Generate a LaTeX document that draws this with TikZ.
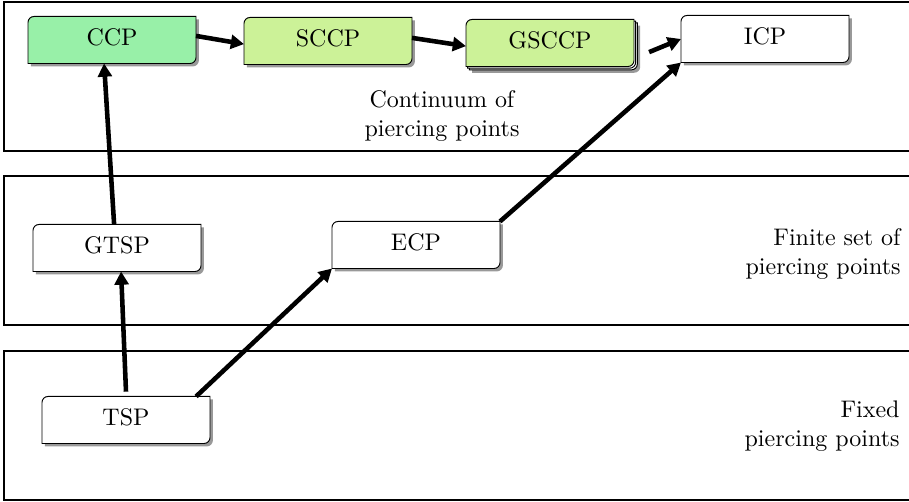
\documentclass[tikz,border=0pt]{standalone}
\usepackage{tikz}
\usetikzlibrary{shapes,arrows.meta,shadows,backgrounds}

\definecolor{ccpgreen}{RGB}{152,240,168}
\definecolor{sccpgreen}{RGB}{204,242,152}
% outline with two rounded corners (top left, bottom right)
\newcommand{\cornerpath}[1]{([yshift=-2.5pt]#1.north west) arc[start angle=180, end angle=90, radius=2.5pt] -- (#1.north east) -- ([yshift=2.5pt]#1.south east) arc[start angle=0, end angle=-90, radius=2.5pt] -- (#1.south west) -- cycle}

\begin{document}
\begin{tikzpicture}[x=0.4167pt, y=-0.4167pt, >={Triangle[length=5.5pt, width=5.8pt]}]
			\tikzset{
				problem/.style={rectangle, minimum width=69.6pt, minimum height=19.2pt, text height=1.6ex, text depth=.6ex, inner sep=0pt},
				shadebox/.style={draw=black, drop shadow={shadow xshift=1.2pt, shadow yshift=-1.2pt, fill=black!40, opacity=1}},
				band/.style={draw=black, semithick},
				bandlabel/.style={align=right, anchor=east, inner sep=0pt},
				arrow/.style={line width=1.9pt, ->},
			}
			\useasboundingbox (0,0) rectangle (909,502);
			%bands
			\draw[band] (4,2) rectangle (920,151);
			\draw[band] (4,176) rectangle (920,325);
			\draw[band] (4,351) rectangle (920,500);
			\node[align=center, inner sep=0pt] (contlabel) at (442,116) {Continuum of\\piercing points};
			\node[bandlabel] (finitelabel) at (901,254) {Finite set of\\piercing points};
			\node[bandlabel] (fixedlabel) at (900,426) {Fixed\\piercing points};
			%problems
			\node[problem] (ccp) at (112,40) {CCP};
			\node[problem] (sccp) at (328,41) {SCCP};
			\node[problem] (gsccp) at (550,43) {GSCCP};
			\node[problem] (icp) at (765,39) {ICP};
			\node[problem] (gtsp) at (117,248) {GTSP};
			\node[problem] (ecp) at (416,245) {ECP};
			\node[problem] (tsp) at (126,420) {TSP};
			\begin{scope}[on background layer]
				\foreach \n/\c in {ccp/ccpgreen, sccp/sccpgreen, icp/white, gtsp/white, ecp/white, tsp/white}
					\draw[shadebox, fill=\c] \cornerpath{\n};
				\draw[fill=sccpgreen, draw=black,
					drop shadow={shadow xshift=2.6pt, shadow yshift=-2.6pt, fill=black!40, opacity=1},
					general shadow={shadow xshift=1.4pt, shadow yshift=-1.4pt, fill=white, draw=black},
					general shadow={shadow xshift=0.7pt, shadow yshift=-0.7pt, fill=white, draw=black}] \cornerpath{gsccp};
			\end{scope}
			%draw arrows
			\draw[arrow] ([yshift=1.7pt]ccp.east) -- ([yshift=-1.3pt]sccp.west);
			\draw[arrow] ([yshift=1.3pt]sccp.east) -- ([yshift=-1.3pt]gsccp.west);
			\draw[arrow] ([xshift=6.3pt, yshift=-3.8pt]gsccp.east) -- (icp.west);
			\draw[arrow] (ecp.north east) -- (icp.south west);
			\draw[arrow] ([xshift=-5.8pt]tsp.north east) -- (ecp.south west);
			\draw[arrow] ([yshift=2pt]tsp.north) -- ([xshift=1.7pt]gtsp.south);
			\draw[arrow] ([xshift=-1.2pt]gtsp.north) -- ([xshift=-3.3pt]ccp.south);
		\end{tikzpicture}
\end{document}
